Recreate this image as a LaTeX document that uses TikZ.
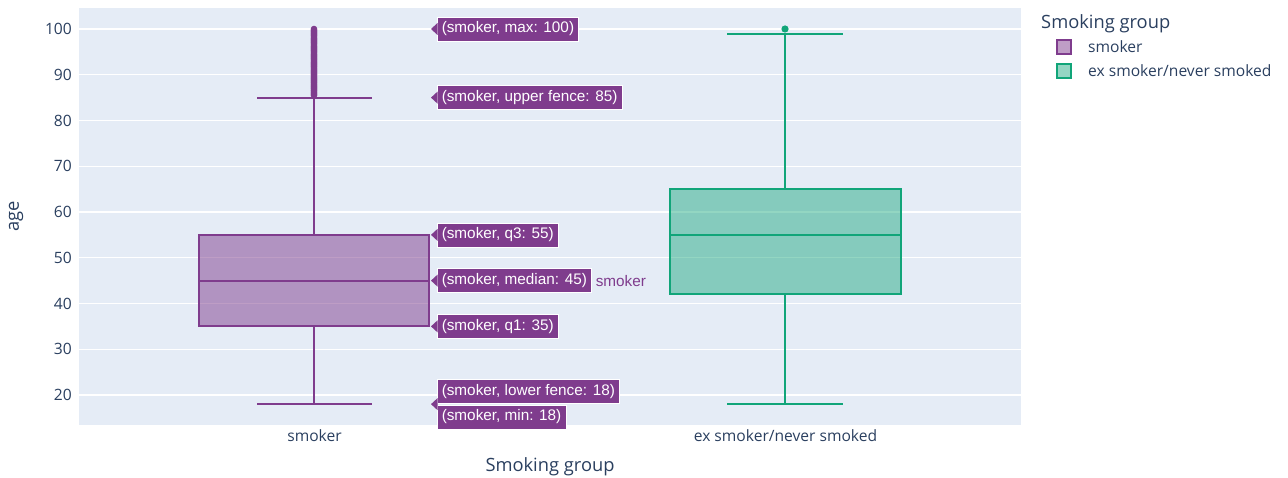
\documentclass[tikz,border=0pt]{standalone}
\usepackage{fontspec}
\setmainfont{Open Sans}
\newfontfamily\hovfont{Liberation Sans}
\definecolor{pbg}{HTML}{E5ECF6}
\definecolor{ptxt}{HTML}{2A3F5F}
\definecolor{smk}{HTML}{7F3C8D}
\definecolor{exs}{HTML}{11A579}
\begin{document}
\begin{tikzpicture}[x=1pt,y=-1pt,
  declare function={yv(\v)=395-(\v-20)*4.575;},
  ticklab/.style={font=\fontsize{15.6}{18}\selectfont, text=ptxt, inner sep=0pt},
  ttl/.style={font=\fontsize{18.3}{21}\selectfont, text=ptxt, inner sep=0pt},
  grid/.style={draw=white, line width=1.2pt},
  hov/.style={fill=smk, draw=white, line width=0.5pt, text=white,
     font=\hovfont\fontsize{15.3}{18}\selectfont, inner xsep=4.5pt, inner ysep=0pt,
     minimum height=24pt, anchor=west},
  hovtip/.style={fill=smk},
  sbox/.style={fill=smk, fill opacity=0.5, draw=smk, draw opacity=1, line width=2pt},
  ebox/.style={fill=exs, fill opacity=0.45, draw=exs, draw opacity=1, line width=2pt},
  sline/.style={draw=smk, line width=2pt},
  eline/.style={draw=exs, line width=2pt},
]
\useasboundingbox (0,0) rectangle (1288,478);
% plot background and grid
\fill[pbg] (79,8) rectangle (1021,425);
\foreach \v in {20,30,...,100} {
  \draw[grid] (79,{yv(\v)}) -- (1021,{yv(\v)});
  \node[ticklab, anchor=east] (yt\v) at (72,{yv(\v)}) {\v};
}
% smoker box
\path[sbox] (199,{yv(35)}) rectangle (429,{yv(55)});
\draw[sline] (199,{yv(45)}) -- (429,{yv(45)});
\draw[sline] (314,{yv(55)}) -- (314,{yv(85)});
\draw[sline] (257,{yv(85)}) -- (372,{yv(85)});
\draw[sline] (314,{yv(35)}) -- (314,{yv(18)});
\draw[sline] (257,{yv(18)}) -- (372,{yv(18)});
\foreach \v in {85.5,85.75,...,100} {
  \fill[smk] (314,{yv(\v)}) circle (3.3pt);
}
% ex smoker box
\path[ebox] (670,{yv(42)}) rectangle (901,{yv(65)});
\draw[eline] (670,{yv(55)}) -- (901,{yv(55)});
\draw[eline] (785,{yv(65)}) -- (785,{yv(99)});
\draw[eline] (727,{yv(99)}) -- (843,{yv(99)});
\draw[eline] (785,{yv(42)}) -- (785,{yv(18)});
\draw[eline] (727,{yv(18)}) -- (843,{yv(18)});
\fill[exs] (785,{yv(100)}) circle (3.6pt);
% hover labels
\node[hov] (hmax) at (437,{yv(100)}) {(smoker, max: 100)};
\node[hov] (hup) at (437,{yv(85)}) {(smoker, upper fence: 85)};
\node[hov] (hq3) at (437,{yv(55)}) {(smoker, q3: 55)};
\node[hov] (hmed) at (437,{yv(45)}) {(smoker, median: 45)};
\node[hov] (hq1) at (437,{yv(35)}) {(smoker, q1: 35)};
\node[hov] (hlow) at (437,391.5) {(smoker, lower fence: 18)};
\node[hov] (hmin) at (437,417) {(smoker, min: 18)};
\foreach \n/\v in {hmax/100,hup/85,hq3/55,hmed/45,hq1/35} {
  \fill[hovtip] (437.5,{yv(\v)-6}) -- (431,{yv(\v)}) -- (437.5,{yv(\v)+6}) -- cycle;
}
\coordinate (tip18) at (431,{yv(18)});
\fill[hovtip] (437.5,{yv(18)-6}) -- (tip18) -- (437.5,{yv(18)+6}) -- cycle;
\node[anchor=west, text=smk, font=\hovfont\fontsize{15.3}{18}\selectfont, inner sep=0pt]
  (hname) at ([xshift=4pt]hmed.east) {smoker};
% axis labels
\node[ticklab] (xt1) at (314.5,436) {smoker};
\node[ticklab] (xt2) at (785.5,436) {ex smoker/never smoked};
\node[ttl] (xtitle) at (550,467) {Smoking group};
\node[ttl, rotate=90] (ytitle) at (16,216.5) {age};
% legend
\node[ttl, anchor=west] (legt) at (1041,24) {Smoking group};
\path[sbox, line width=1.8pt] (1057,40) rectangle (1071,54);
\path[ebox, line width=1.8pt] (1057,64) rectangle (1071,78);
\node[ticklab, anchor=west] (leg1) at (1088,47) {smoker};
\node[ticklab, anchor=west] (leg2) at (1088,71) {ex smoker/never smoked};
\end{tikzpicture}
\end{document}
